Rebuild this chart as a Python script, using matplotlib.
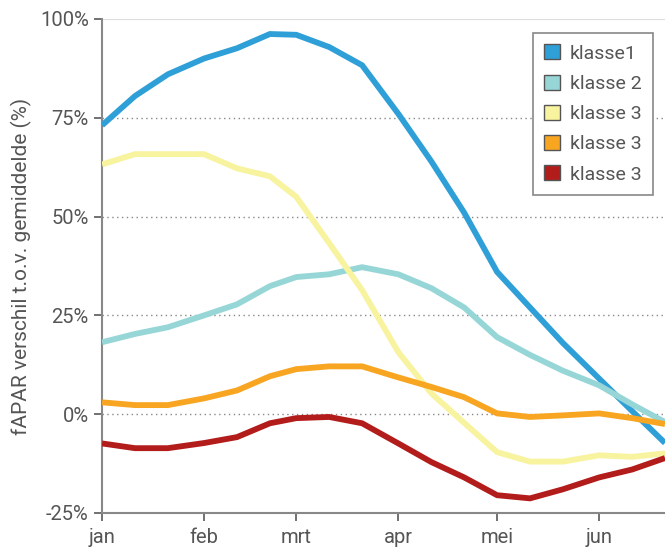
import matplotlib
matplotlib.use("Agg")
import matplotlib.pyplot as plt
from matplotlib.patches import Patch

# dekad positions (day of year)
days = [0, 10, 20, 31, 41, 51, 59, 69, 79, 90, 100, 110, 120, 130, 140, 151, 161, 171]

klasse1 = [73.1, 80.5, 86, 90, 92.6, 96.2, 96, 92.9, 88.3, 76, 64, 51, 36, 27, 18, 9, 0.8, -7.3]
klasse2 = [18.2, 20.3, 22, 25, 27.8, 32.4, 34.7, 35.4, 37.2, 35.4, 31.9, 27, 19.5, 15, 11, 7.3, 2.5, -2]
klasse3a = [63.2, 65.8, 65.8, 65.8, 62.2, 60.2, 55, 43.3, 31.4, 15.7, 5.3, -2.2, -9.6, -12, -12, -10.4, -10.8, -9.9]
klasse3b = [3.0, 2.3, 2.3, 4.0, 6.0, 9.6, 11.4, 12.1, 12.1, 9.3, 6.9, 4.3, 0.2, -0.7, -0.3, 0.2, -1, -2.5]
klasse3c = [-7.4, -8.6, -8.6, -7.3, -5.8, -2.3, -1, -0.7, -2.3, -7.4, -12.1, -16, -20.5, -21.3, -19, -16, -14, -11.1]

labels = ["klasse1", "klasse 2", "klasse 3", "klasse 3", "klasse 3"]
colors = ["#2f9fd8", "#97d6d7", "#f8f39f", "#f8a522", "#b21c1b"]
series = [klasse1, klasse2, klasse3a, klasse3b, klasse3c]

month_pos = [0, 31, 59, 90, 120, 151]
month_labels = ["jan", "feb", "mrt", "apr", "mei", "jun"]
yticks = [-25, 0, 25, 50, 75, 100]
ytick_labels = ["-25%", "0%", "25%", "50%", "75%", "100%"]

plt.rcParams['font.family'] = ['Roboto', 'DejaVu Sans']
grey = "#555555"

fig = plt.figure(figsize=(6.65, 5.49), dpi=100)
ax = fig.add_axes([0.1534, 0.0656, 0.8466, 0.8998])

for s, c in zip(series, colors):
    ax.plot(days, s, color=c, lw=4.2, solid_joinstyle='miter', solid_capstyle='butt', zorder=3)

ax.set_xlim(0, 171)
ax.set_ylim(-25, 100)
ax.set_xticks(month_pos)
ax.set_xticklabels(month_labels)
ax.set_yticks(yticks)
ax.set_yticklabels(ytick_labels)

for y in [0, 25, 50, 75]:
    ax.axhline(y, color="#888888", lw=1.0, ls=(0, (1, 2.5)), zorder=1)
ax.axhline(100, color="#dddddd", lw=1.5, zorder=1)

for side in ["right", "top"]:
    ax.spines[side].set_visible(False)
for side in ["left", "bottom"]:
    ax.spines[side].set_color("#888888")
    ax.spines[side].set_linewidth(1.5)

ax.tick_params(axis='both', colors="#666666", labelcolor=grey, labelsize=14.5, length=6, width=1.3)
ax.tick_params(axis='x', pad=5)
ax.set_ylabel("fAPAR verschil t.o.v. gemiddelde (%)", color=grey, fontsize=15, labelpad=6)

handles = [Patch(facecolor=c, edgecolor="#555555", lw=1) for c in colors]
leg = ax.legend(handles, labels, loc="upper right", bbox_to_anchor=(0.979, 0.972),
                borderaxespad=0.0,
                handlelength=0.8, handleheight=0.8, handletextpad=0.5,
                fontsize=14, labelspacing=0.62, borderpad=0.6, fancybox=False,
                framealpha=1, edgecolor="#888888", labelcolor=grey)
leg.get_frame().set_linewidth(1.2)

fig.savefig("out.png", dpi=100)
